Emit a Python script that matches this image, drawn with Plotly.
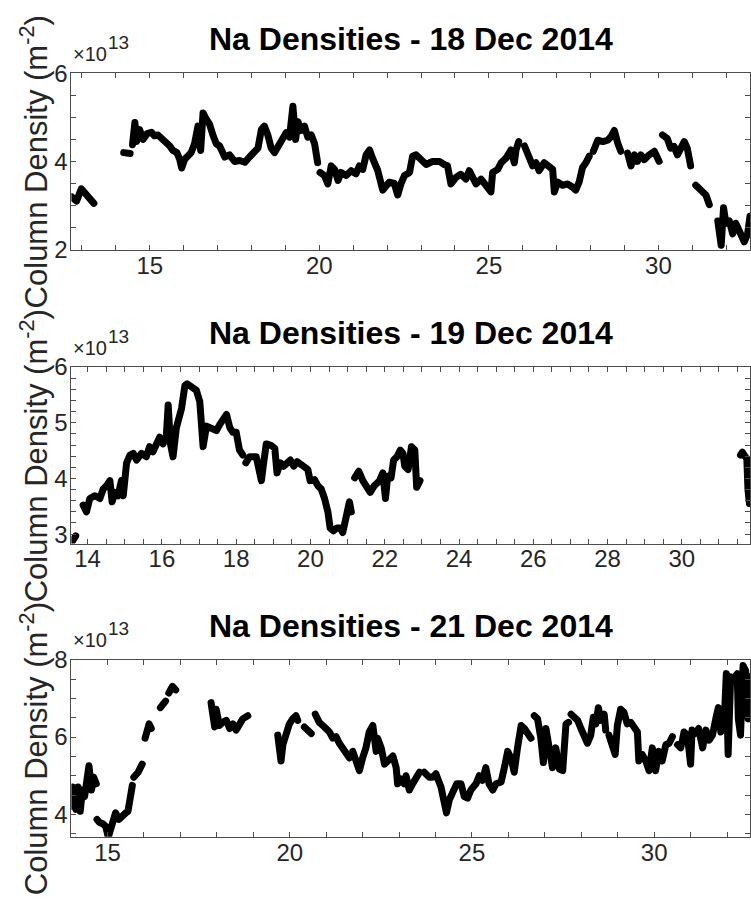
import plotly.graph_objects as go

# ---------------- data (hours UT, column density in units of 1e13 m^-2) ----------------
p1_hours = [12.69, 12.84, 12.98, 13.13, 13.23, 13.35, None,
            14.23, 14.42, None,
            14.49, 14.56, 14.61, 14.70, 14.80, 14.92, 15.05, 15.14, 15.24, 15.37, 15.49, 15.59, 15.68,
            15.80, 15.88, 15.94, 16.03, 16.13, 16.22, 16.32, 16.42, 16.50, 16.57, 16.67, 16.76, 16.86,
            16.96, 17.06, 17.21, 17.35, 17.50, 17.65, 17.80, 17.94, 18.09, 18.19, 18.29, 18.38, 18.48,
            18.58, 18.68, 18.83, 18.92, 19.02, 19.12, 19.22, 19.30, 19.37, 19.46, 19.56, 19.66, 19.76,
            19.86, 19.95, None,
            20.02, 20.15, 20.25, 20.35, 20.45, 20.55, 20.64, 20.79, 20.94, 21.08, 21.18, 21.28, 21.38,
            21.48, 21.58, 21.72, 21.87, 22.06, 22.21, 22.31, 22.41, 22.51, 22.66, 22.75, 22.85, 23.00,
            23.15, 23.34, 23.54, 23.68, 23.78, 23.88, 24.03, 24.17, 24.32, 24.42, 24.52, 24.62, 24.77,
            24.92, 25.06, 25.11, 25.26, 25.36, 25.51, 25.65, 25.75, 25.80, 25.88, None,
            26.05, 26.19, 26.29, 26.39, 26.48, 26.63, 26.78, 26.88, 26.93, 27.03, 27.17, 27.32, 27.46,
            27.56, 27.66, 27.76, 27.86, 27.96, None,
            28.08, 28.21, 28.36, 28.50, 28.60, 28.70, 28.80, 28.89, None,
            29.09, 29.19, 29.29, 29.38, 29.48, 29.58, 29.73, 29.88, 30.02, None,
            30.12, 30.26, 30.36, 30.46, 30.56, 30.66, 30.76, 30.85, 30.95, None,
            31.10, 31.25, 31.40, 31.50, None,
            31.75, 31.85, 31.92, 31.99, 32.09, 32.19, 32.28, 32.43, 32.53, 32.63, 32.70]
p1_density = [3.20, 3.10, 3.38, 3.24, 3.17, 3.05, None,
              4.20, 4.18, None,
              4.38, 4.88, 4.45, 4.72, 4.50, 4.63, 4.66, 4.58, 4.60, 4.52, 4.42, 4.35, 4.25,
              4.20, 4.05, 3.85, 4.05, 4.15, 4.20, 4.40, 4.80, 4.25, 5.10, 4.95, 4.85, 4.60,
              4.40, 4.35, 4.10, 4.15, 4.00, 4.02, 3.98, 4.10, 4.25, 4.30, 4.72, 4.80, 4.60,
              4.30, 4.20, 4.40, 4.55, 4.65, 4.55, 5.25, 4.50, 4.90, 4.70, 4.80, 4.55, 4.60,
              4.40, 3.97, None,
              3.75, 3.68, 3.49, 3.90, 3.82, 3.57, 3.75, 3.68, 3.79, 3.72, 3.90, 3.82, 4.15,
              4.26, 4.05, 3.80, 3.35, 3.53, 3.50, 3.24, 3.50, 3.68, 3.75, 4.12, 4.15, 4.05,
              3.93, 4.00, 4.00, 3.93, 3.90, 3.49, 3.64, 3.71, 3.60, 3.79, 3.60, 3.49, 3.60,
              3.46, 3.31, 3.75, 3.82, 3.97, 4.08, 4.26, 3.97, 4.26, 4.45, None,
              4.35, 4.04, 3.90, 3.97, 3.79, 3.97, 3.90, 3.82, 3.31, 3.53, 3.46, 3.49, 3.42,
              3.35, 3.53, 3.86, 3.97, 4.12, None,
              4.23, 4.48, 4.45, 4.48, 4.56, 4.70, 4.41, 4.23, None,
              4.19, 3.90, 4.15, 4.00, 4.15, 4.04, 4.15, 4.23, 4.00, None,
              4.60, 4.52, 4.30, 4.34, 4.15, 4.34, 4.45, 4.30, 3.90, None,
              3.46, 3.35, 3.24, 3.02, None,
              2.65, 2.10, 2.95, 2.60, 2.65, 2.36, 2.60, 2.29, 2.18, 2.36, 2.76]

p2_hours = [13.57, 13.68, None,
            13.88, 13.97, 14.06, 14.20, 14.33, 14.42, 14.51, 14.60, 14.66, 14.73, 14.82, 14.91, 14.96,
            15.05, 15.14, 15.23, 15.32, 15.45, 15.58, 15.67, 15.76, 15.85, 15.94, 16.03, 16.12, 16.17,
            16.23, 16.30, 16.39, 16.53, 16.62, 16.68, 16.79, 16.93, 17.02, 17.11, 17.20, 17.33, 17.47,
            17.56, 17.65, 17.74, 17.83, 17.91, 18.00, 18.09, 18.18, None,
            18.26, 18.36, 18.54, 18.68, 18.74, 18.81, 18.95, 19.04, 19.10, 19.19, 19.28, 19.37, 19.46,
            19.55, 19.64, 19.75, 19.84, 19.93, 19.99, 20.11, 20.20, 20.29, 20.38, 20.47, 20.53, 20.62,
            20.71, 20.80, 20.87, 20.96, 21.05, 21.10, None,
            21.19, 21.30, 21.41, 21.50, 21.61, 21.72, 21.86, 21.95, 22.02, 22.08, 22.17, 22.24, 22.33,
            22.42, 22.49, 22.54, 22.63, 22.72, 22.81, 22.86, 22.95, None,
            31.58, 31.63, 31.70, 31.75, 31.78, 31.82]
p2_density = [2.85, 2.97, None,
              3.52, 3.40, 3.64, 3.69, 3.64, 3.81, 3.87, 3.96, 3.58, 3.75, 3.69, 3.96, 3.69,
              4.28, 4.42, 4.45, 4.33, 4.45, 4.39, 4.57, 4.48, 4.65, 4.74, 4.62, 4.77, 5.32,
              4.62, 4.39, 4.91, 5.26, 5.67, 5.70, 5.64, 5.58, 5.38, 4.57, 4.94, 4.91, 4.86,
              4.97, 5.06, 5.15, 4.91, 4.83, 4.83, 4.51, 4.42, None,
              4.28, 4.39, 4.39, 3.96, 4.28, 4.62, 4.59, 4.54, 4.10, 4.28, 4.22, 4.28, 4.33,
              4.22, 4.30, 4.25, 4.19, 4.16, 3.96, 3.98, 3.87, 3.81, 3.64, 3.40, 3.11, 3.06,
              3.11, 3.11, 3.03, 3.35, 3.58, 3.40, None,
              4.01, 4.13, 3.96, 3.87, 3.75, 3.87, 3.96, 4.10, 3.64, 4.04, 4.01, 4.33, 4.39,
              4.51, 4.45, 4.22, 4.16, 4.57, 4.51, 3.84, 3.96, None,
              4.42, 4.47, 4.40, 4.36, 3.80, 3.55]

p3_hours = [14.00, 14.05, 14.13, 14.19, 14.25, 14.31, 14.37, 14.44, 14.49, 14.56, 14.62, 14.69, None,
            14.71, 14.78, 14.88, 14.95, 15.02, 15.09, 15.15, 15.22, 15.31, 15.41, 15.50, 15.56, 15.61,
            15.68, None,
            15.72, 15.84, 15.95, None,
            16.03, 16.14, 16.20, None,
            16.45, 16.59, None,
            16.68, 16.78, 16.87, None,
            17.84, 17.94, 17.98, 18.07, 18.16, 18.26, 18.35, 18.44, 18.53, 18.62, 18.71, 18.85, None,
            19.67, 19.76, 19.81, 19.90, 19.99, 20.08, 20.17, 20.22, None,
            20.40, 20.59, None,
            20.70, 20.81, 20.95, 21.09, 21.18, 21.27, 21.36, 21.45, 21.54, 21.64, None,
            21.73, 21.82, 21.91, 22.00, 22.09, 22.18, 22.28, 22.37, 22.41, 22.51, 22.60, 22.69, 22.83,
            22.92, 22.96, 23.05, 23.14, 23.19, 23.28, 23.37, 23.46, 23.56, None,
            23.69, 23.83, 23.92, 24.01, 24.15, 24.24, 24.30, 24.38, 24.47, 24.58, 24.70, 24.79, 24.88,
            24.97, 25.11, 25.20, 25.29, 25.38, 25.47, 25.57, 25.66, 25.80, 25.89, 25.98, 26.07, 26.16,
            26.25, 26.35, 26.44, 26.53, 26.62, None,
            26.71, 26.80, 26.89, 26.96, 27.03, 27.12, 27.21, 27.30, 27.40, 27.49, 27.58, 27.65, None,
            27.72, 27.81, 27.90, 27.99, 28.08, 28.17, 28.26, 28.33, 28.40, 28.47, 28.53, 28.63, 28.67,
            None,
            28.76, 28.85, 28.93, 28.99, 29.08, 29.17, 29.26, 29.36, 29.45, 29.54, 29.58, 29.67, 29.77,
            29.86, 29.95, 30.04, 30.13, 30.22, 30.32, 30.41, 30.50, None,
            30.64, 30.73, 30.82, 30.91, 31.00, 31.04, 31.13, 31.22, 31.33, 31.42, 31.51, 31.60, 31.69,
            31.76, 31.83, 31.92, 31.98, 32.03, 32.10, 32.19, 32.28, 32.31, 32.37, 32.44, 32.51, 32.58,
            32.62]
p3_density = [4.21, 4.71, 4.13, 4.71, 4.08, 4.63, 4.46, 5.09, 5.26, 4.63, 4.96, 4.79, None,
              3.87, 3.79, 3.75, 3.69, 3.41, 3.62, 3.87, 4.04, 3.87, 4.00, 4.04, 4.08, 4.46,
              4.75, None,
              4.96, 5.09, 5.30, None,
              5.97, 6.34, 6.22, None,
              6.76, 6.93, None,
              7.14, 7.31, 7.22, None,
              6.89, 6.26, 6.72, 6.30, 6.38, 6.43, 6.22, 6.34, 6.18, 6.38, 6.47, 6.55, None,
              6.05, 5.38, 5.80, 6.13, 6.34, 6.47, 6.55, 6.43, None,
              6.26, 6.09, None,
              6.59, 6.38, 6.26, 6.13, 5.97, 6.01, 5.84, 5.72, 5.67, 5.46, None,
              5.63, 5.38, 5.13, 5.46, 5.72, 6.13, 6.30, 5.63, 5.97, 5.72, 5.30, 5.38, 5.51,
              5.21, 4.79, 4.92, 4.79, 5.00, 4.63, 4.79, 4.96, 5.09, None,
              5.09, 4.96, 4.96, 5.05, 4.71, 4.29, 4.04, 4.38, 4.54, 4.79, 4.79, 4.46, 4.42,
              4.63, 4.79, 5.00, 4.88, 5.21, 4.79, 4.63, 4.79, 4.84, 5.21, 5.63, 5.46, 5.09,
              5.72, 6.30, 6.22, 6.05, 5.97, None,
              6.55, 6.47, 5.97, 5.34, 6.22, 5.72, 5.21, 5.72, 5.17, 5.13, 6.34, 6.38, None,
              6.59, 6.51, 6.43, 6.22, 5.97, 5.84, 6.05, 6.51, 6.34, 6.76, 6.43, 6.59, 6.18,
              None,
              6.05, 5.80, 5.55, 6.30, 6.72, 6.64, 6.34, 6.38, 6.26, 6.13, 5.38, 5.55, 5.38,
              5.13, 5.72, 5.13, 5.63, 5.38, 5.80, 5.84, 6.01, None,
              5.80, 5.72, 6.13, 6.05, 5.30, 6.18, 6.09, 6.22, 5.72, 6.18, 5.92, 6.05, 6.47,
              6.76, 6.13, 6.34, 7.64, 5.55, 7.56, 7.51, 7.64, 6.47, 6.05, 7.85, 7.72, 6.47,
              7.56]

titles = ["Na Densities - 18 Dec 2014", "Na Densities - 19 Dec 2014", "Na Densities - 21 Dec 2014"]
y_label = "Column Density (m<sup>-2</sup>)"
exp_base = "\u00d710"
exp_power = "13"

x_ranges = [[12.688, 32.70], [13.564, 31.835], [14.008, 32.63]]
y_ranges = [[2.0, 6.0], [2.83, 6.0], [3.42, 8.0]]
x_major = [5, 2, 5]
x_minor = [1, 0.5, 1]
y_major = [2, 1, 2]
y_minor = [0.5, 0.2, 0.5]

# ---------------- layout geometry (pixels) ----------------
W, H = 751, 899
FONT = "Liberation Sans, Arial, Helvetica, sans-serif"
AX = "#4d4d4d"
TXT = "#262626"
left_px = 71.5
tops = [61, 364, 665.7]
bottoms = [243, 546, 848.3]


def xp(px):
    return px / W


def yp(py):
    return 1 - py / H


fig = go.Figure()
series = [(p1_hours, p1_density), (p2_hours, p2_density), (p3_hours, p3_density)]
for i, (xs, ys) in enumerate(series):
    sfx = "" if i == 0 else str(i + 1)
    fig.add_trace(go.Scatter(x=xs, y=ys, mode="lines", connectgaps=False,
                             line=dict(color="black", width=7),
                             xaxis="x" + sfx, yaxis="y" + sfx, showlegend=False,
                             hoverinfo="skip"))

layout = dict(width=W, height=H, margin=dict(l=0, r=0, t=0, b=0),
              paper_bgcolor="white", plot_bgcolor="white", showlegend=False)

annotations = []
for i in range(3):
    sfx = "" if i == 0 else str(i + 1)
    common = dict(showline=True, linecolor=AX, linewidth=1, mirror="ticks",
                  ticks="inside", ticklen=5, tickwidth=1, tickcolor=AX,
                  showgrid=False, zeroline=False,
                  tickfont=dict(family=FONT, size=24, color=TXT))
    layout["xaxis" + sfx] = dict(common, domain=[xp(left_px), 1.0], range=x_ranges[i],
                                 anchor="y" + sfx, tick0=0, dtick=x_major[i],
                                 ticklabelstandoff=-6,
                                 minor=dict(ticks="inside", ticklen=5, tickwidth=1,
                                            tickcolor=AX, tick0=0, dtick=x_minor[i]))
    layout["yaxis" + sfx] = dict(common, domain=[yp(bottoms[i]), yp(tops[i])],
                                 range=y_ranges[i], anchor="x" + sfx, tick0=0,
                                 dtick=y_major[i], ticklabelstandoff=-2,
                                 minor=dict(ticks="inside", ticklen=5, tickwidth=1,
                                            tickcolor=AX, tick0=0, dtick=y_minor[i]))
    # title
    annotations.append(dict(text=titles[i], x=xp(411.5), y=yp(tops[i] - 35),
                            xref="paper", yref="paper", xanchor="center", yanchor="middle",
                            showarrow=False,
                            font=dict(family=FONT, size=32, color="black", weight="bold")))
    # exponent  (x10 and raised 13)
    annotations.append(dict(text=exp_base, x=xp(71), y=yp(tops[i] - 20),
                            xref="paper", yref="paper", xanchor="left", yanchor="middle",
                            showarrow=False, font=dict(family=FONT, size=20, color=TXT)))
    annotations.append(dict(text=exp_power, x=xp(106), y=yp(tops[i] - 32),
                            xref="paper", yref="paper", xanchor="left", yanchor="middle",
                            showarrow=False, font=dict(family=FONT, size=19, color=TXT)))
    # y label
    annotations.append(dict(text=y_label, x=xp(34), y=yp((tops[i] + bottoms[i]) / 2),
                            xref="paper", yref="paper", xanchor="center", yanchor="middle",
                            textangle=-90, showarrow=False,
                            font=dict(family=FONT, size=31, color=TXT)))

layout["annotations"] = annotations
fig.update_layout(**layout)

fix_page = (
    "document.documentElement.style.margin='0';"
    "document.body.style.margin='0';document.body.style.padding='0';"
    "document.body.style.overflow='hidden';"
    "var gd=document.getElementById('{plot_id}');"
    "gd.style.position='fixed';gd.style.left='0px';gd.style.top='0px';"
    "var st=document.createElement('style');"
    "st.textContent='.js-line{stroke-linejoin:round;stroke-linecap:round;}';"
    "document.head.appendChild(st);"
)
fig.write_html("out.html", post_script=fix_page, config={"displayModeBar": False})
